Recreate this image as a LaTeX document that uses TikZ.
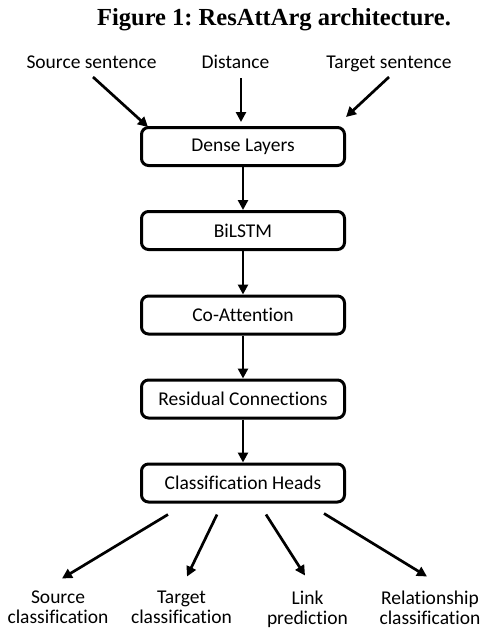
\documentclass[tikz,border=0pt]{standalone}
\usepackage{fontspec}
\setmainfont{Carlito}[Ligatures={NoCommon,NoContextual}]
\newfontfamily\titlefont{Liberation Serif}
\usetikzlibrary{calc, arrows.meta}
\frenchspacing

\begin{document}
\begin{tikzpicture}[x=1pt,y=-1pt,
    layer/.style={draw,line width=3pt,rounded corners=7pt,minimum width=203pt,minimum height=38pt,inner sep=0pt,font=\fontsize{19.5}{20}\selectfont},
    lbl/.style={inner sep=0pt,font=\fontsize{19.5}{20}\selectfont,align=center},
    arr/.style={-{Triangle[length=10pt,width=10pt]},line width=2.7pt}]
            \useasboundingbox (0,0) rectangle (484,629);
            \node (title) at (274,25)[anchor=base,inner sep=0pt]{\titlefont\fontsize{24.5}{28}\selectfont\bfseries Figure 1: ResAttArg architecture.};
            % inputs
            \node (src) at (91.5,68.5)[lbl,anchor=base]{Source sentence};
            \node (dist) at (235.5,68.5)[lbl,anchor=base]{Distance};
            \node (tgt) at (389,68.5)[lbl,anchor=base]{Target sentence};
            % layers
            \node (dense) at (243,146.5)[layer]{Dense Layers};
            \node (bilstm) at (243,230.5)[layer]{BiLSTM};
            \node (coatt) at (243,315)[layer]{Co-Attention};
            \node (resid) at (243,399)[layer]{Residual Connections};
            \node (heads) at (243,483)[layer]{Classification Heads};
            % outputs
            \node (srccls) at (58,590.5)[lbl,anchor=north]{Source\\classification};
            \node (tgtcls) at (181.5,590.5)[lbl,anchor=north]{Target\\classification};
            \node (link) at (307.5,590.5)[lbl,anchor=north]{Link\\prediction};
            \node (relcls) at (430,590.5)[lbl,anchor=north]{Relationship\\classification};
            \draw[arr] ([xshift=1.5pt,yshift=-8.5pt]src.base)--([xshift=8pt,yshift=-1pt]dense.north west);
            \draw[arr] ([xshift=5.5pt,yshift=-9.5pt]dist.base)--([xshift=-2pt,yshift=4pt]dense.north);
            \draw[arr] ([yshift=-8.5pt]tgt.base)--([yshift=9pt]dense.north east);
            \draw[arr] (dense)--(bilstm);
            \draw[arr] (bilstm)--(coatt);
            \draw[arr] (coatt)--(resid);
            \draw[arr] (resid)--(heads);
            \draw[arr] ([xshift=-75pt,yshift=-11pt]heads.south)--([xshift=4pt,yshift=12pt]srccls.north);
            \draw[arr] ([xshift=-26pt,yshift=-11pt]heads.south)--([xshift=5.5pt,yshift=14pt]tgtcls.north);
            \draw[arr] ([xshift=23pt,yshift=-11pt]heads.south)--([xshift=-2.5pt,yshift=15pt]link.north);
            \draw[arr] ([xshift=81pt,yshift=-10pt]heads.south)--([xshift=-3pt,yshift=14pt]relcls.north);
        \end{tikzpicture}
\end{document}
